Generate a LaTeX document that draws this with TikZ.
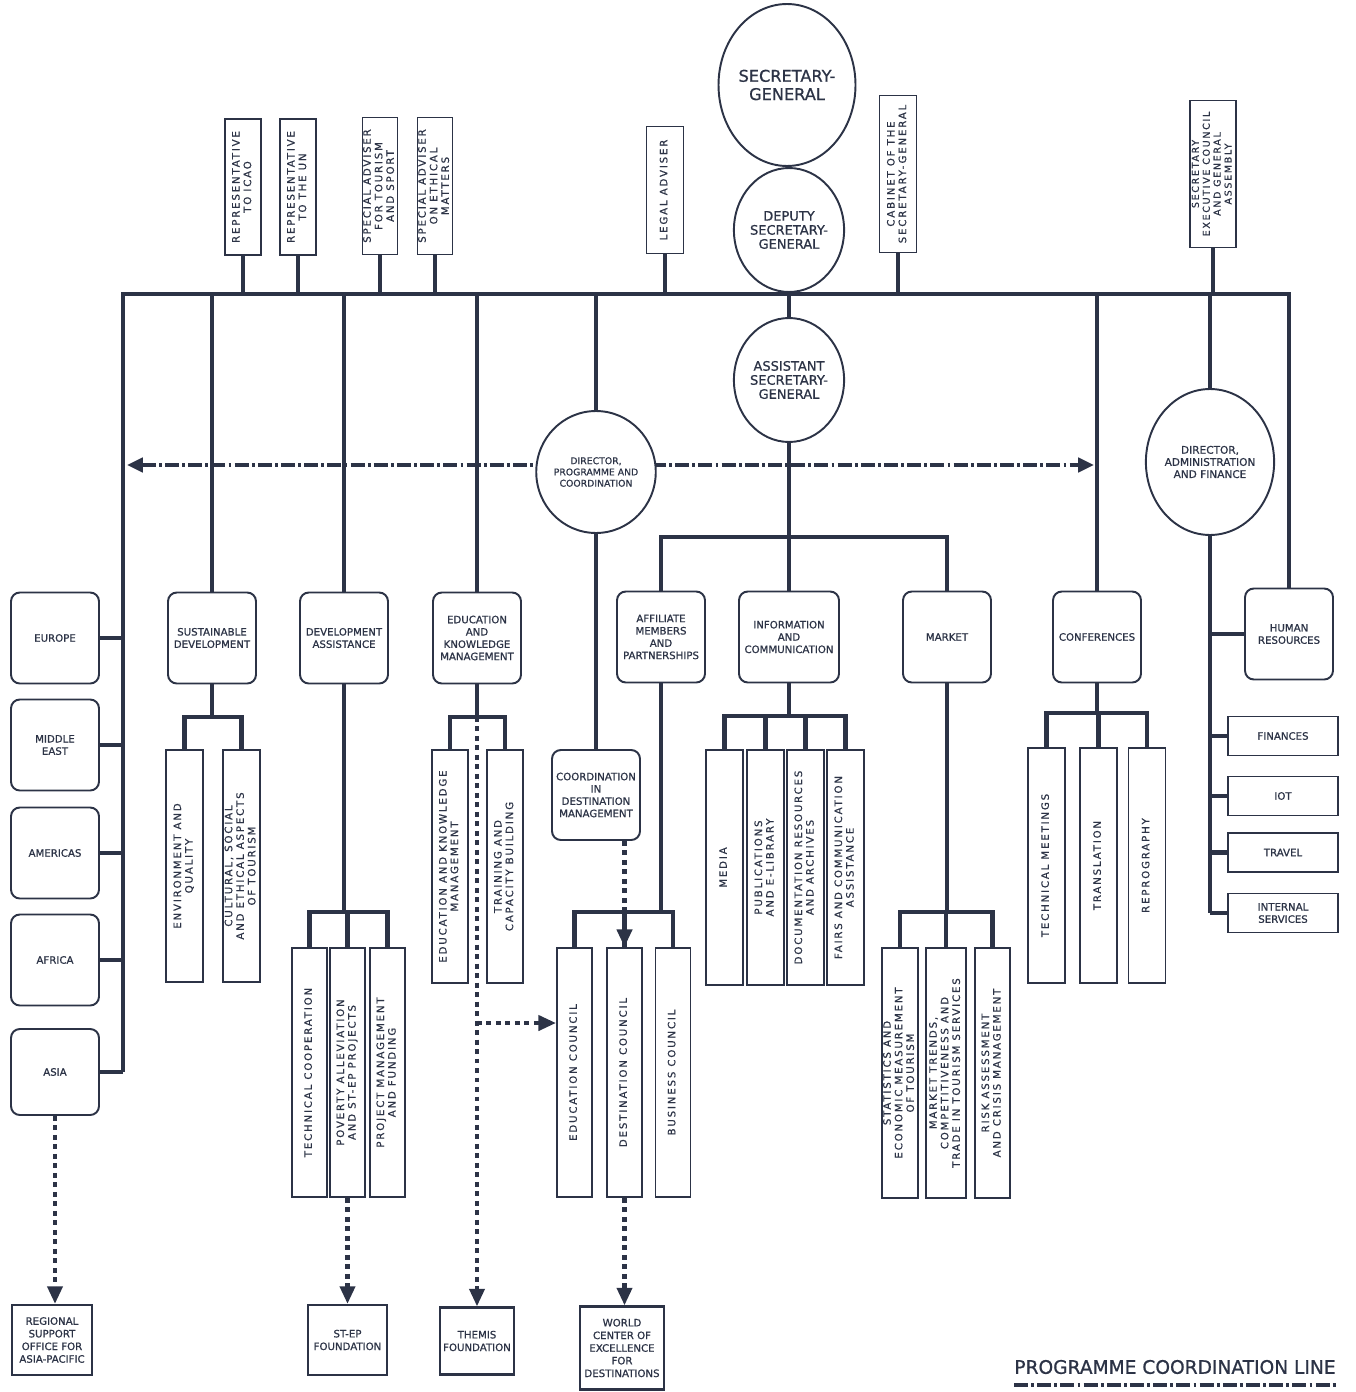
\documentclass[tikz,border=0pt]{standalone}
\usepackage{graphicx}
\usepackage{fontspec}
\setmainfont{DejaVu Sans}[FakeBold=0.8]
\newfontfamily\plotfont{DejaVu Sans}[LetterSpace=18, FakeBold=0.6]
\usepackage{tikz}
\usetikzlibrary{arrows.meta, shapes.geometric, backgrounds}
\definecolor{orgink}{HTML}{2C3346}
\newcommand{\vlabel}[1]{\rotatebox{90}{\begin{tabular}{@{}c@{}}#1\end{tabular}}}

\begin{document}
\begin{tikzpicture}[
    x=0.02cm, y=-0.02cm,
    every node/.style={align=center, text=orgink, draw=orgink, fill=white},
    % coordinates are the pixels of the scanned chart (y downwards)
    chief/.style={ellipse, line width=1.1pt, inner sep=0pt},
    unit/.style={rectangle, rounded corners=5pt, line width=1.1pt, inner sep=1pt,
                 minimum width=1.76cm, minimum height=1.82cm,
                 font=\fontsize{5.8}{7}\selectfont},
    vbox/.style={rectangle, line width=1.1pt, inner sep=0pt,
                 minimum width=0.72cm,
                 font=\plotfont\fontsize{5.8}{6.6}\selectfont},
    hbox/.style={rectangle, line width=1.1pt, inner sep=1pt,
                 minimum width=2.2cm, minimum height=0.78cm,
                 font=\fontsize{5.8}{7}\selectfont},
    outbox/.style={rectangle, line width=1.3pt, inner sep=1pt,
                   font=\fontsize{5.8}{7.2}\selectfont},
    link/.style={draw=orgink, line width=2.3pt},
    mainbar/.style={draw=orgink, line width=2.8pt},
    coordline/.style={draw=orgink, line width=2.3pt, dash pattern=on 2.8pt off 2.6pt,
                      -{Triangle[length=10pt, width=8.5pt]}},
    progline/.style={draw=orgink, line width=2.3pt,
                     dash pattern=on 8pt off 1.8pt on 1.6pt off 1.8pt}
  ]
  \useasboundingbox (0,0) rectangle (1355,1392);

  % direction
  \node[chief, minimum width=2.24cm, minimum height=3.24cm,
        font=\fontsize{9.2}{10.4}\selectfont] (sg) at (787,85) {SECRETARY-\\GENERAL};
  \node[chief, minimum width=1.84cm, minimum height=2.48cm,
        font=\fontsize{7.4}{8}\selectfont] (dsg) at (789,230) {DEPUTY\\SECRETARY-\\GENERAL};
  \node[chief, minimum width=1.84cm, minimum height=2.48cm,
        font=\fontsize{7.4}{8}\selectfont] (asg) at (789,380) {ASSISTANT\\SECRETARY-\\GENERAL};
  \node[chief, minimum width=1.92cm, minimum height=2.44cm,
        font=\fontsize{5.3}{6.4}\selectfont] (dirpc) at (596,472) {DIRECTOR,\\PROGRAMME AND\\COORDINATION};
  \node[chief, minimum width=2.16cm, minimum height=2.92cm,
        font=\fontsize{6}{6.9}\selectfont] (diraf) at (1210,462) {DIRECTOR,\\ADMINISTRATION\\AND FINANCE};

  % advisers above the line
  \node[vbox, minimum height=2.72cm] (repicao) at (243,187) {\vlabel{REPRESENTATIVE\\TO ICAO}};
  \node[vbox, minimum height=2.72cm] (repun) at (298,187) {\vlabel{REPRESENTATIVE\\TO THE UN}};
  \node[vbox, minimum width=0.70cm, minimum height=2.74cm] (advsport) at (380,186) {\vlabel{SPECIAL ADVISER\\FOR TOURISM\\AND SPORT}};
  \node[vbox, minimum width=0.70cm, minimum height=2.74cm] (advethic) at (435,186) {\vlabel{SPECIAL ADVISER\\ON ETHICAL\\MATTERS}};
  \node[vbox, minimum width=0.74cm, minimum height=2.54cm] (legal) at (665,190) {\vlabel{LEGAL ADVISER}};
  \node[vbox, minimum width=0.74cm, minimum height=3.14cm] (cabinet) at (898,174) {\vlabel{CABINET OF THE\\SECRETARY-GENERAL}};
  \node[vbox, minimum width=0.92cm, minimum height=2.94cm,
        font=\plotfont\fontsize{5.4}{6.2}\selectfont] (secgenass) at (1213,174) {\vlabel{SECRETARY\\EXECUTIVE COUNCIL\\AND GENERAL\\ASSEMBLY}};

  % regional programmes
  \node[unit] (europe) at (55,638) {EUROPE};
  \node[unit] (mideast) at (55,745) {MIDDLE\\EAST};
  \node[unit] (americas) at (55,853) {AMERICAS};
  \node[unit] (africa) at (55,960) {AFRICA};
  \node[unit, minimum height=1.72cm] (asia) at (55,1072) {ASIA};

  % programmes
  \node[unit] (sustdev) at (212,638) {SUSTAINABLE\\DEVELOPMENT};
  \node[unit] (devassist) at (344,638) {DEVELOPMENT\\ASSISTANCE};
  \node[unit] (edukm) at (477,638) {EDUCATION\\AND\\KNOWLEDGE\\MANAGEMENT};
  \node[unit] (affiliate) at (661,637) {AFFILIATE\\MEMBERS\\AND\\PARTNERSHIPS};
  \node[unit, minimum width=2cm] (infocom) at (789,637) {INFORMATION\\AND\\COMMUNICATION};
  \node[unit] (market) at (947,637) {MARKET};
  \node[unit] (conf) at (1097,637) {CONFERENCES};
  \node[unit] (hr) at (1289,634) {HUMAN\\RESOURCES};
  \node[unit, minimum height=1.8cm] (coorddm) at (596,795) {COORDINATION\\IN\\DESTINATION\\MANAGEMENT};

  % sections
  \node[vbox, minimum width=0.74cm, minimum height=4.64cm] (envq) at (184.5,866) {\vlabel{ENVIRONMENT AND\\QUALITY}};
  \node[vbox, minimum width=0.74cm, minimum height=4.64cm] (cultural) at (241.5,866) {\vlabel{CULTURAL, SOCIAL\\AND ETHICAL ASPECTS\\OF TOURISM}};

  \node[vbox, minimum width=0.70cm, minimum height=4.98cm] (techcoop) at (309.5,1072.5) {\vlabel{TECHNICAL COOPERATION}};
  \node[vbox, minimum width=0.70cm, minimum height=4.98cm] (poverty) at (347.5,1072.5) {\vlabel{POVERTY ALLEVIATION\\AND ST-EP PROJECTS}};
  \node[vbox, minimum width=0.70cm, minimum height=4.98cm] (projmgmt) at (387.5,1072.5) {\vlabel{PROJECT MANAGEMENT\\AND FUNDING}};

  \node[vbox, minimum height=4.66cm] (edukmsub) at (450,866.5) {\vlabel{EDUCATION AND KNOWLEDGE\\MANAGEMENT}};
  \node[vbox, minimum height=4.66cm] (training) at (505,866.5) {\vlabel{TRAINING AND\\CAPACITY BUILDING}};

  \node[vbox, minimum width=0.70cm, minimum height=4.98cm] (educouncil) at (574.5,1072.5) {\vlabel{EDUCATION COUNCIL}};
  \node[vbox, minimum width=0.70cm, minimum height=4.98cm] (destcouncil) at (624.5,1072.5) {\vlabel{DESTINATION COUNCIL}};
  \node[vbox, minimum width=0.70cm, minimum height=4.98cm] (buscouncil) at (673,1072.5) {\vlabel{BUSINESS COUNCIL}};

  \node[vbox, minimum width=0.74cm, minimum height=4.7cm] (media) at (724.5,867.5) {\vlabel{MEDIA}};
  \node[vbox, minimum width=0.74cm, minimum height=4.7cm] (publications) at (765.5,867.5) {\vlabel{PUBLICATIONS\\AND E-LIBRARY}};
  \node[vbox, minimum width=0.74cm, minimum height=4.7cm] (documentation) at (805.5,867.5) {\vlabel{DOCUMENTATION RESOURCES\\AND ARCHIVES}};
  \node[vbox, minimum width=0.74cm, minimum height=4.7cm] (fairs) at (845.5,867.5) {\vlabel{FAIRS AND COMMUNICATION\\ASSISTANCE}};

  \node[vbox, minimum height=5cm] (statistics) at (900,1073) {\vlabel{STATISTICS AND\\ECONOMIC MEASUREMENT\\OF TOURISM}};
  \node[vbox, minimum width=0.80cm, minimum height=5cm] (trends) at (946,1073) {\vlabel{MARKET TRENDS,\\COMPETITIVENESS AND\\TRADE IN TOURISM SERVICES}};
  \node[vbox, minimum width=0.70cm, minimum height=5cm] (risk) at (992.5,1073) {\vlabel{RISK ASSESSMENT\\AND CRISIS MANAGEMENT}};

  \node[vbox, minimum width=0.74cm, minimum height=4.7cm] (techmeet) at (1046.5,865.5) {\vlabel{TECHNICAL MEETINGS}};
  \node[vbox, minimum width=0.74cm, minimum height=4.7cm] (translation) at (1098.5,865.5) {\vlabel{TRANSLATION}};
  \node[vbox, minimum width=0.74cm, minimum height=4.7cm] (repro) at (1147,865.5) {\vlabel{REPROGRAPHY}};

  \node[hbox] (finances) at (1283,736) {FINANCES};
  \node[hbox] (iot) at (1283,796) {IOT};
  \node[hbox] (travel) at (1283,852.5) {TRAVEL};
  \node[hbox] (internal) at (1283,913) {INTERNAL\\SERVICES};

  % outside bodies
  \node[outbox, minimum width=1.6cm, minimum height=1.4cm] (rso) at (52,1340) {REGIONAL\\SUPPORT\\OFFICE FOR\\ASIA-PACIFIC};
  \node[outbox, minimum width=1.58cm, minimum height=1.4cm] (stepf) at (347.5,1340) {ST-EP\\FOUNDATION};
  \node[outbox, minimum width=1.48cm, minimum height=1.34cm] (themis) at (477,1341) {THEMIS\\FOUNDATION};
  \node[outbox, minimum width=1.68cm, minimum height=1.66cm] (wcoe) at (622,1348) {WORLD\\CENTER OF\\EXCELLENCE\\FOR\\DESTINATIONS};

  \node[draw=none, fill=none, inner sep=0pt, font=\fontsize{10.6}{12}\selectfont] (legend) at (1175,1367) {PROGRAMME COORDINATION LINE};
  \draw[progline] ([yshift=-6pt]legend.south west) -- ([yshift=-6pt]legend.south east);

  \begin{scope}[on background layer]
    \coordinate (barL) at (123,294);
    \draw[mainbar] (barL |- asia.east) -- (barL) -- (barL -| hr.north) -- (hr.north);
    \foreach \n in {repicao,repun,advsport,advethic,legal,cabinet,secgenass}
      \draw[link] (\n.south) -- (\n.south |- barL);
    \foreach \n in {sustdev,devassist,edukm,dirpc,conf,diraf}
      \draw[link] (\n.north) -- (\n.north |- barL);
    \draw[link] (sg.south) -- (dsg.north);
    \draw[link] (dsg.south) -- (asg.north);
    \foreach \n in {europe,mideast,americas,africa,asia}
      \draw[link] (\n.east) -- (\n.east -| barL);

    \coordinate (asgj) at (789,537);
    \draw[link] (asg.south) -- (asgj) -- (infocom.north);
    \draw[link] (affiliate.north) -- (affiliate.north |- asgj) -- (market.north |- asgj) -- (market.north);
    \draw[link] (dirpc.south) -- (coorddm.north);

    \coordinate (sdj) at (212,717);
    \draw[link] (sustdev.south) -- (sdj);
    \draw[link] (envq.north) -- (envq.north |- sdj) -- (cultural.north |- sdj) -- (cultural.north);

    \coordinate (daj) at (344,912);
    \draw[link] (devassist.south) -- (daj);
    \draw[link] (techcoop.north) -- (techcoop.north |- daj) -- (projmgmt.north |- daj) -- (projmgmt.north);
    \draw[link] (poverty.north) -- (poverty.north |- daj);

    \coordinate (ekj) at (477,717);
    \draw[link] (edukm.south) -- (ekj);
    \draw[link] (edukmsub.north) -- (edukmsub.north |- ekj) -- (training.north |- ekj) -- (training.north);

    \coordinate (afj) at (661,912);
    \draw[link] (affiliate.south) -- (afj);
    \draw[link] (educouncil.north) -- (educouncil.north |- afj) -- (buscouncil.north |- afj) -- (buscouncil.north);
    \draw[link] (destcouncil.north) -- (destcouncil.north |- afj);

    \coordinate (icj) at (789,716);
    \draw[link] (infocom.south) -- (icj);
    \draw[link] (media.north) -- (media.north |- icj) -- (fairs.north |- icj) -- (fairs.north);
    \foreach \n in {publications,documentation}
      \draw[link] (\n.north) -- (\n.north |- icj);

    \coordinate (mkj) at (947,912);
    \draw[link] (market.south) -- (mkj);
    \draw[link] (statistics.north) -- (statistics.north |- mkj) -- (risk.north |- mkj) -- (risk.north);
    \draw[link] (trends.north) -- (trends.north |- mkj);

    \coordinate (cfj) at (1097,713);
    \draw[link] (conf.south) -- (cfj);
    \draw[link] (techmeet.north) -- (techmeet.north |- cfj) -- (repro.north |- cfj) -- (repro.north);
    \draw[link] (translation.north) -- (translation.north |- cfj);

    \draw[link] (diraf.south) -- (diraf.south |- internal.west);
    \foreach \n in {hr,finances,iot,travel,internal}
      \draw[link] (\n.west) -- (\n.west -| diraf.south);

    % programme coordination
    \coordinate (pcL) at (127,465);
    \coordinate (pcR) at (1094,465);
    \draw[progline, {Triangle[length=9pt, width=8pt]}-{Triangle[length=9pt, width=8pt]}] (pcL) -- (pcR);

    \draw[coordline] (asia.south) -- (asia.south |- rso.north);
    \draw[coordline] (poverty.south) -- (stepf.north);
    \draw[coordline] (ekj) -- (themis.north);
    \coordinate (ekbranch) at (477,1023);
    \draw[coordline] (ekbranch) -- (ekbranch -| educouncil.west);
    \draw[coordline] (coorddm.south -| destcouncil.north) -- (destcouncil.north);
    \draw[coordline] (destcouncil.south) -- (destcouncil.south |- wcoe.north);
  \end{scope}
\end{tikzpicture}
\end{document}
